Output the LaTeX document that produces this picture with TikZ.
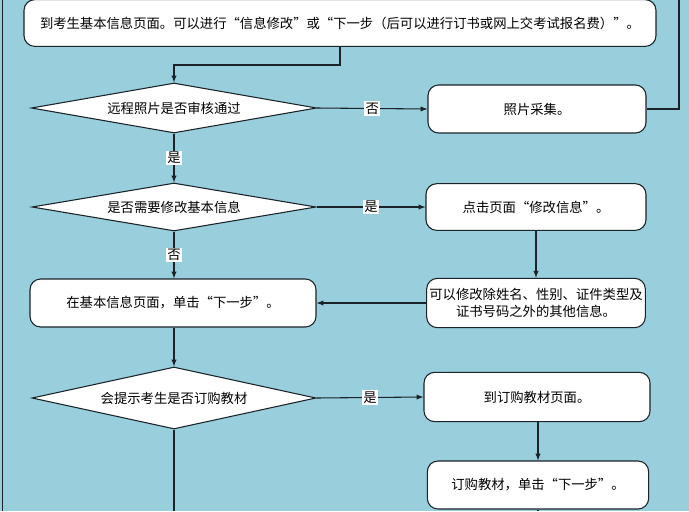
\documentclass[tikz,border=0pt]{standalone}
\usepackage{fontspec}
\setmainfont{Noto Sans CJK SC}
\usetikzlibrary{shapes.geometric}
\definecolor{bgblue}{RGB}{153,206,220}
\definecolor{inkline}{RGB}{25,35,40}

\begin{document}
\begin{tikzpicture}[
                x=0.75pt, y=-0.75pt,
                font=\fontsize{10pt}{13pt}\selectfont,
                line width=0.8pt,
                >=latex,
                % rounded step boxes
                stepbox/.style={
                    draw=inkline,
                    fill=white,
                    rounded corners=8pt,
                    align=center,
                    inner sep=2pt
                },
                % decision diamonds
                choice/.style={
                    draw=inkline,
                    fill=white,
                    diamond,
                    aspect=5.7,
                    inner sep=0pt
                },
                % labels on the arrows
                lbl/.style={
                    fill=white,
                    inner sep=1pt
                },
                link/.style={draw=inkline, ->}
            ]

                % background and frame
                \fill[bgblue] (0,0) rectangle (689,511);
                \useasboundingbox (0,0) rectangle (689,511);
                \draw[inkline] (2.5,0) -- (2.5,511);

                % ========================================================
                % 1. info page and photo check
                % ========================================================
                \node[stepbox, minimum width=474pt, minimum height=35pt] (infopage) at (340,23)
                    {到考生基本信息页面。可以进行“信息修改”或“下一步（后可以进行订书或网上交考试报名费）”。};

                \node[choice, minimum width=214pt, minimum height=37.5pt] (photocheck) at (174,108)
                    {远程照片是否审核通过};

                \node[stepbox, minimum width=163.5pt, minimum height=36pt] (photo) at (537,109)
                    {照片采集。};

                \coordinate (bend1) at (340,65);
                \draw[link] (infopage.south) -- (bend1) -| (photocheck.north);
                \draw[link] (photocheck.east) -- node[lbl] {否} (photo.west);

                % loop back upwards
                \coordinate (loopend) at (679,0);
                \draw[inkline] (photo.east) -| (loopend);

                % ========================================================
                % 2. modify basic info?
                % ========================================================
                \node[choice, minimum width=213pt, minimum height=36pt] (modcheck) at (174,207)
                    {是否需要修改基本信息};

                \node[stepbox, minimum width=165pt, minimum height=35pt] (clickmod) at (536,207)
                    {点击页面“修改信息”。};

                \node[stepbox, minimum width=164pt, minimum height=37pt] (modify) at (536,303)
                    {可以修改除姓名、性别、证件类型及\\证书号码之外的其他信息。};

                \node[stepbox, minimum width=214.5pt, minimum height=36pt] (nextstep) at (173,303)
                    {在基本信息页面，单击“下一步”。};

                \draw[link] (photocheck.south) -- node[lbl] {是} (modcheck.north);
                \draw[link] (modcheck.east) -- node[lbl] {是} (clickmod.west);
                \draw[link] (clickmod.south) -- (modify.north);
                \draw[link] (modify.west) -- (nextstep.east);
                \draw[link] (modcheck.south) -- node[lbl] {否} (nextstep.north -| modcheck.south);

                % ========================================================
                % 3. order textbooks?
                % ========================================================
                \node[choice, minimum width=213pt, minimum height=46.5pt] (bookcheck) at (174,398)
                    {会提示考生是否订购教材};

                \node[stepbox, minimum width=169.5pt, minimum height=37pt] (orderpage) at (537,397)
                    {到订购教材页面。};

                \node[stepbox, minimum width=166pt, minimum height=36pt] (buybooks) at (538,485)
                    {订购教材，单击“下一步”。};

                \draw[link] (nextstep.south -| bookcheck.north) -- (bookcheck.north);
                \draw[link] (bookcheck.east) -- node[lbl] {是} (orderpage.west);
                \draw[link] (orderpage.south -| buybooks.north) -- (buybooks.north);

                % lines running on below
                \coordinate (downleft) at (174,511);
                \coordinate (downright) at (538,511);
                \draw[inkline] (bookcheck.south) -- (downleft);
                \draw[inkline] (buybooks.south) -- (downright);

            \end{tikzpicture}
\end{document}
